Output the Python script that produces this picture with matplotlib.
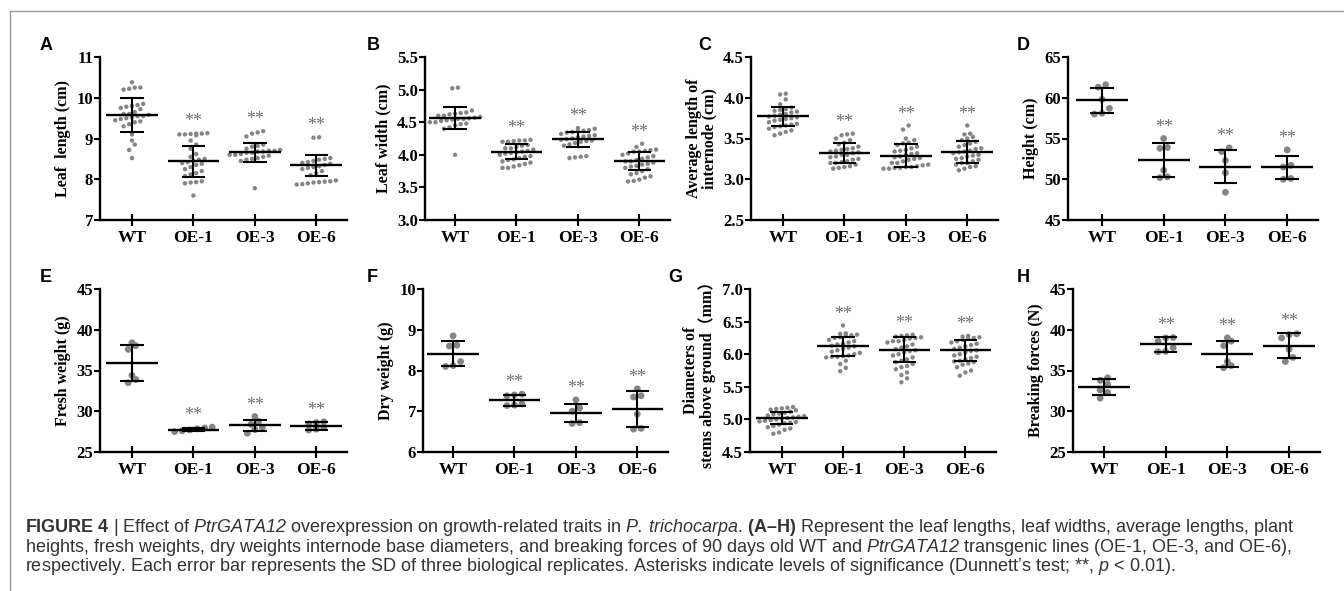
import matplotlib
matplotlib.use('Agg')
import matplotlib.pyplot as plt
from matplotlib.lines import Line2D
import numpy as np

# ---------------- data ----------------
groups = ['WT', 'OE-1', 'OE-3', 'OE-6']

leaf_length = [
    [10.38, 10.25, 10.25, 10.22, 10.2, 9.85, 9.82, 9.8, 9.78, 9.75, 9.72, 9.65, 9.6, 9.6, 9.58,
     9.55, 9.55, 9.52, 9.5, 9.48, 9.45, 9.42, 9.4, 9.35, 9.3, 9.1, 8.95, 8.85, 8.72, 8.52],
    [9.13, 9.12, 9.12, 9.11, 9.1, 9.1, 9.08, 8.95, 8.85, 8.75, 8.62, 8.55, 8.5, 8.48, 8.45,
     8.42, 8.4, 8.38, 8.35, 8.3, 8.25, 8.2, 8.15, 8.12, 8.08, 7.95, 7.93, 7.92, 7.9, 7.6],
    [9.18, 9.15, 9.12, 9.05, 8.85, 8.82, 8.8, 8.75, 8.72, 8.7, 8.7, 8.68, 8.68, 8.65, 8.65,
     8.62, 8.6, 8.6, 8.58, 8.55, 8.52, 8.5, 8.48, 8.45, 7.78],
    [9.03, 9.02, 8.52, 8.5, 8.48, 8.45, 8.42, 8.4, 8.38, 8.35, 8.32, 8.3, 8.28, 8.25, 8.2,
     8.15, 8.1, 7.97, 7.95, 7.94, 7.93, 7.92, 7.9, 7.88, 7.87],
]
leaf_length_mean = [9.58, 8.44, 8.66, 8.34]
leaf_length_sd = [0.41, 0.38, 0.24, 0.265]

leaf_width = [
    [5.03, 5.02, 4.68, 4.65, 4.64, 4.63, 4.62, 4.6, 4.6, 4.58, 4.57, 4.56, 4.55, 4.55, 4.54,
     4.53, 4.52, 4.5, 4.5, 4.48, 4.47, 4.45, 4.42, 4.4, 4.0],
    [4.23, 4.22, 4.22, 4.21, 4.2, 4.2, 4.15, 4.14, 4.12, 4.1, 4.1, 4.08, 4.06, 4.05, 4.04,
     4.03, 4.02, 4.0, 3.98, 3.97, 3.95, 3.93, 3.92, 3.9, 3.88, 3.86, 3.84, 3.82, 3.8, 3.8],
    [4.41, 4.4, 4.38, 4.37, 4.36, 4.35, 4.34, 4.32, 4.3, 4.29, 4.28, 4.27, 4.25, 4.24, 4.23,
     4.22, 4.21, 4.2, 4.18, 4.16, 4.14, 3.98, 3.97, 3.96, 3.95],
    [4.17, 4.12, 4.08, 4.07, 4.06, 4.05, 4.05, 4.02, 4.0, 3.98, 3.96, 3.94, 3.92, 3.9, 3.9,
     3.88, 3.86, 3.85, 3.83, 3.82, 3.8, 3.78, 3.75, 3.72, 3.7, 3.67, 3.65, 3.62, 3.6, 3.59],
]
leaf_width_mean = [4.56, 4.05, 4.24, 3.91]
leaf_width_sd = [0.17, 0.12, 0.115, 0.14]

internode_length = [
    [4.05, 4.04, 3.98, 3.92, 3.88, 3.86, 3.85, 3.84, 3.83, 3.82, 3.8, 3.79, 3.78, 3.77, 3.76,
     3.75, 3.74, 3.73, 3.72, 3.7, 3.68, 3.67, 3.66, 3.65, 3.64, 3.62, 3.6, 3.58, 3.56, 3.54],
    [3.56, 3.55, 3.54, 3.5, 3.48, 3.45, 3.43, 3.4, 3.38, 3.37, 3.36, 3.35, 3.34, 3.33, 3.32,
     3.3, 3.3, 3.28, 3.27, 3.25, 3.24, 3.22, 3.21, 3.2, 3.2, 3.18, 3.16, 3.15, 3.14, 3.13],
    [3.66, 3.61, 3.5, 3.48, 3.45, 3.44, 3.42, 3.4, 3.38, 3.36, 3.35, 3.34, 3.32, 3.31, 3.3,
     3.28, 3.27, 3.26, 3.25, 3.24, 3.22, 3.2, 3.2, 3.18, 3.17, 3.16, 3.15, 3.15, 3.14, 3.14,
     3.13, 3.13],
    [3.66, 3.56, 3.55, 3.52, 3.5, 3.48, 3.46, 3.44, 3.42, 3.4, 3.38, 3.37, 3.35, 3.34, 3.33,
     3.32, 3.3, 3.29, 3.28, 3.26, 3.25, 3.24, 3.22, 3.2, 3.2, 3.18, 3.16, 3.15, 3.13, 3.11],
]
internode_length_mean = [3.77, 3.32, 3.29, 3.34]
internode_length_sd = [0.115, 0.12, 0.14, 0.135]

height = [
    [61.6, 61.3, 59.8, 58.7, 58.1, 58.0],
    [55.0, 53.9, 53.8, 51.1, 50.3, 50.2],
    [53.85, 53.4, 52.3, 50.8, 48.4],
    [53.6, 51.7, 51.5, 50.1, 50.0],
]
height_mean = [59.67, 52.38, 51.56, 51.48]
height_sd = [1.54, 2.09, 2.07, 1.42]

fresh_weight = [
    [38.4, 38.05, 37.6, 34.4, 33.9, 33.5],
    [28.05, 27.95, 27.85, 27.7, 27.6, 27.5],
    [29.35, 28.75, 28.4, 28.0, 27.75, 27.3],
    [28.7, 28.6, 28.45, 28.0, 27.8, 27.7],
]
fresh_weight_mean = [35.92, 27.74, 28.27, 28.15]
fresh_weight_sd = [2.23, 0.2, 0.65, 0.47]

dry_weight = [
    [8.85, 8.62, 8.6, 8.22, 8.12, 8.1],
    [7.42, 7.4, 7.38, 7.18, 7.15, 7.14],
    [7.28, 7.08, 7.0, 6.72, 6.7],
    [7.55, 7.38, 7.35, 6.93, 6.58, 6.56],
]
dry_weight_mean = [8.41, 7.27, 6.96, 7.06]
dry_weight_sd = [0.31, 0.13, 0.23, 0.44]

stem_diameter = [
    [5.19, 5.18, 5.17, 5.16, 5.15, 5.14, 5.12, 5.1, 5.09, 5.08, 5.06, 5.05, 5.04, 5.03, 5.02,
     5.01, 5.0, 4.99, 4.98, 4.97, 4.96, 4.95, 4.94, 4.92, 4.9, 4.88, 4.86, 4.84, 4.8, 4.78],
    [6.44, 6.32, 6.31, 6.3, 6.29, 6.28, 6.26, 6.25, 6.22, 6.2, 6.18, 6.16, 6.15, 6.13, 6.12,
     6.1, 6.08, 6.06, 6.04, 6.02, 6.0, 5.98, 5.97, 5.96, 5.96, 5.95, 5.9, 5.85, 5.79, 5.74],
    [6.3, 6.29, 6.28, 6.27, 6.26, 6.25, 6.24, 6.22, 6.2, 6.2, 6.18, 6.15, 6.12, 6.1, 6.08,
     6.06, 6.05, 6.03, 6.0, 5.98, 5.95, 5.92, 5.9, 5.88, 5.85, 5.82, 5.8, 5.77, 5.72, 5.68,
     5.63, 5.57],
    [6.28, 6.27, 6.26, 6.25, 6.24, 6.22, 6.2, 6.18, 6.16, 6.14, 6.12, 6.1, 6.08, 6.06, 6.05,
     6.03, 6.0, 5.98, 5.96, 5.94, 5.92, 5.9, 5.89, 5.88, 5.86, 5.84, 5.8, 5.75, 5.72, 5.67],
]
stem_diameter_mean = [5.02, 6.12, 6.07, 6.06]
stem_diameter_sd = [0.09, 0.15, 0.195, 0.165]

breaking_force = [
    [34.1, 33.8, 33.3, 32.6, 32.3, 31.6],
    [39.05, 39.0, 38.6, 37.8, 37.35, 37.3],
    [39.0, 38.6, 38.05, 36.1, 35.6, 35.35],
    [39.5, 39.4, 39.0, 37.6, 36.6, 36.1],
]
breaking_force_mean = [32.93, 38.2, 37.07, 38.05]
breaking_force_sd = [0.99, 0.88, 1.6, 1.57]

panel_letters = ['A', 'B', 'C', 'D', 'E', 'F', 'G', 'H']
y_labels = ['Leaf  length (cm)', 'Leaf width (cm)', 'Average length of\ninternode (cm)',
            'Height (cm)', 'Fresh weight (g)', 'Dry weight (g)',
            'Diameters of\nstems above ground\uff08mm\uff09', 'Breaking forces (N)']
y_ticks = [[7, 8, 9, 10, 11], [3.0, 3.5, 4.0, 4.5, 5.0, 5.5], [2.5, 3.0, 3.5, 4.0, 4.5],
           [45, 50, 55, 60, 65], [25, 30, 35, 40, 45], [6, 7, 8, 9, 10],
           [4.5, 5.0, 5.5, 6.0, 6.5, 7.0], [25, 30, 35, 40, 45]]
tick_fmt = ['%d', '%.1f', '%.1f', '%d', '%d', '%d', '%.1f', '%d']
significant = ['', '**', '**', '**']

datasets = [
    (leaf_length, leaf_length_mean, leaf_length_sd),
    (leaf_width, leaf_width_mean, leaf_width_sd),
    (internode_length, internode_length_mean, internode_length_sd),
    (height, height_mean, height_sd),
    (fresh_weight, fresh_weight_mean, fresh_weight_sd),
    (dry_weight, dry_weight_mean, dry_weight_sd),
    (stem_diameter, stem_diameter_mean, stem_diameter_sd),
    (breaking_force, breaking_force_mean, breaking_force_sd),
]

# ---------------- layout ----------------
W, H = 1344, 591
fig = plt.figure(figsize=(W / 100, H / 100), dpi=100)
fig.patch.set_facecolor('white')

serif = ['Liberation Serif', 'DejaVu Serif']
sans = ['Liberation Sans', 'DejaVu Sans']
plt.rcParams['mathtext.fontset'] = 'custom'
plt.rcParams['mathtext.rm'] = 'Liberation Sans'
plt.rcParams['mathtext.it'] = 'Liberation Sans:italic'
plt.rcParams['mathtext.sf'] = 'Liberation Sans:italic'
plt.rcParams['mathtext.bf'] = 'Liberation Sans:bold'

# (left px, right px, top px, bottom px, xlim left)
boxes = [
    (100, 347, 57, 220, -0.52), (425, 670, 57, 220, -0.49),
    (751, 998, 57, 220, -0.52), (1068, 1318, 57, 220, -0.55),
    (100, 347, 289, 452, -0.52), (423, 668, 289, 452, -0.49),
    (750, 996, 289, 452, -0.52), (1073, 1320, 289, 452, -0.5),
]
letter_pos = [(40, 46), (367, 46), (698, 46), (1017, 46),
              (40, 277), (367, 277), (668, 277), (1017, 277)]

point_color = '#858585'


def swarm(center, vals, pxx, pxy, dx, row_h):
    vals = np.asarray(vals, dtype=float)
    order = np.argsort(vals)
    xs = np.zeros(len(vals))
    rows, cur = [], [order[0]]
    for idx in order[1:]:
        if (vals[idx] - vals[cur[0]]) * pxy <= row_h:
            cur.append(idx)
        else:
            rows.append(cur)
            cur = [idx]
    rows.append(cur)
    for row in rows:
        n = len(row)
        for k, idx in enumerate(row):
            xs[idx] = center + (k - (n - 1) / 2) * dx / pxx
    return xs


for i, (pts, means, sds) in enumerate(datasets):
    l, r, t, b, xl = boxes[i]
    ax = fig.add_axes([l / W, 1 - b / H, (r - l) / W, (b - t) / H])
    ymin, ymax = y_ticks[i][0], y_ticks[i][-1]
    ax.set_xlim(xl, 3.5)
    ax.set_ylim(ymin, ymax)
    pxx = (r - l) / (3.5 - xl)
    pxy = (b - t) / (ymax - ymin)
    few = len(pts[0]) < 10
    dot_s = 24 if few else 10
    dx = 7.5 if few else 5.6
    row_h = 6.0 if few else 5.5
    for g in range(4):
        xs = swarm(g, pts[g], pxx, pxy, dx, row_h)
        ax.scatter(xs, pts[g], s=dot_s, color=point_color, edgecolors='none', zorder=2)
        m, sd = means[g], sds[g]
        ax.plot([g - 0.42, g + 0.42], [m, m], color='black', lw=1.7, zorder=3,
                solid_capstyle='butt')
        ax.plot([g, g], [m - sd, m + sd], color='black', lw=1.5, zorder=3)
        for yy in (m - sd, m + sd):
            ax.plot([g - 0.19, g + 0.19], [yy, yy], color='black', lw=1.5, zorder=3,
                    solid_capstyle='butt')
        if significant[g]:
            top = max(max(pts[g]), m + sd)
            ax.text(g, top + 0.07 * (ymax - ymin), significant[g], ha='center', va='center',
                    fontsize=13, color='#707070', family=serif)
    for side in ('top', 'right'):
        ax.spines[side].set_visible(False)
    for side in ('left', 'bottom'):
        ax.spines[side].set_linewidth(1.7)
    ax.set_xticks(range(4))
    ax.set_xticklabels(groups, family=serif, fontweight='bold', fontsize=12.5)
    ax.set_yticks(y_ticks[i])
    ax.set_yticklabels([tick_fmt[i] % v for v in y_ticks[i]], family=serif,
                       fontweight='bold', fontsize=12)
    ax.tick_params(axis='y', direction='out', length=4, width=1.5, pad=1)
    ax.tick_params(axis='x', direction='inout', length=8, width=1.5, pad=3)
    ylab_family = ['Liberation Serif', 'Noto Sans CJK SC'] if i == 6 else serif
    ax.set_ylabel(y_labels[i], family=ylab_family, fontweight='bold', fontsize=11.5,
                  linespacing=1.0, labelpad=4)
    ax.set_facecolor('none')
    lx, ly = letter_pos[i]
    fig.text(lx / W, 1 - ly / H, panel_letters[i], family=sans, fontweight='bold',
             fontsize=13, ha='left', va='center')

# frame lines
fig.add_artist(Line2D([10 / W, 1], [1 - 11 / H, 1 - 11 / H], transform=fig.transFigure,
                      color='#9a9a9a', lw=1.0))
fig.add_artist(Line2D([10 / W, 10 / W], [0, 1 - 11 / H], transform=fig.transFigure,
                      color='#9a9a9a', lw=1.0))

# caption
caption_lines = [
    r"$\mathbf{FIGURE\ 4}$ | Effect of $\mathsf{PtrGATA12}$ overexpression on growth-related "
    r"traits in $\mathsf{P.}\,\mathsf{trichocarpa}$. $\mathbf{(A–H)}$ Represent the leaf lengths, leaf "
    r"widths, average lengths, plant",
    r"heights, fresh weights, dry weights internode base diameters, and breaking forces of 90 "
    r"days old WT and $\mathsf{PtrGATA12}$ transgenic lines (OE-1, OE-3, and OE-6),",
    r"respectively. Each error bar represents the SD of three biological replicates. Asterisks "
    r"indicate levels of significance (Dunnett’s test; **, $\mathsf{p}$ < 0.01).",
]
caption_y = [532, 552, 571]
for line, yb in zip(caption_lines, caption_y):
    fig.text(25 / W, 1 - yb / H, line, family=sans, fontsize=13.0, color='#333333',
             ha='left', va='baseline')

fig.savefig('out.png', dpi=100, facecolor='white')
